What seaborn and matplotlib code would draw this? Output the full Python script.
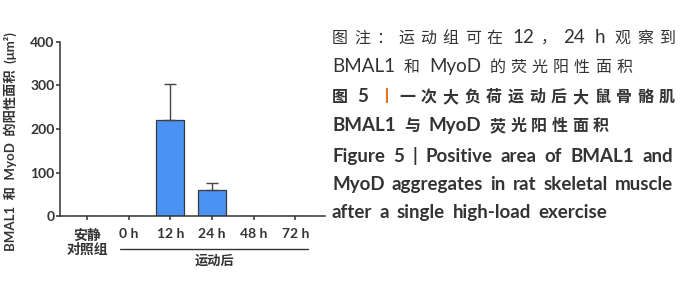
import re
import numpy as np
import matplotlib
matplotlib.use("Agg")
import matplotlib.pyplot as plt
import seaborn as sns

# data
groups = ["安静\n对照组", "0 h", "12 h", "24 h", "48 h", "72 h"]
area = [0, 0, 220, 60, 0, 0]
area_err = [0, 0, 83, 15, 0, 0]
y_ticks = [0, 100, 200, 300, 400]

caption = ["图注：运动组可在 12，24 h 观察到",
           "BMAL1 和 MyoD 的荧光阳性面积",
           "图 5 丨一次大负荷运动后大鼠骨骼肌",
           "BMAL1 与 MyoD 荧光阳性面积",
           "Figure 5 | Positive area of BMAL1 and",
           "MyoD aggregates in rat skeletal muscle",
           "after a single high-load exercise"]
# line widths in pixels
caption_width = [343, 300, 343, 277, 341, 341, 275]

sns.set_style("ticks")
plt.rcParams['font.family'] = ['Lato', 'Noto Sans CJK SC', 'DejaVu Sans']
ink = "#333333"
orange = "#e0782a"

fig = plt.figure(figsize=(7, 2.81), dpi=100)
ax = fig.add_axes([0.0857, 0.231, 0.378, 0.62])

sns.barplot(x=groups, y=area, color="#4a93f5", edgecolor="#3a3a3a",
            linewidth=0.9, width=0.67, saturation=1, ax=ax)
pos = np.arange(len(groups))
err = np.array(area_err)
show = err > 0
ax.errorbar(pos[show], np.array(area)[show],
            yerr=[np.zeros(show.sum()), err[show]],
            fmt="none", ecolor="#444444", elinewidth=1.0, capsize=4.5, capthick=1.0)

ax.set_xlim(-0.65, 5.7)
ax.set_ylim(0, 400)
ax.set_yticks(y_ticks)
ax.set_xticks(pos)
ax.set_xticklabels([])
sns.despine(ax=ax)
for s in ["left", "bottom"]:
    ax.spines[s].set_color(ink)
    ax.spines[s].set_linewidth(1.1)
ax.tick_params(axis="y", colors=ink, labelsize=10, length=3, width=1.1, pad=1)
ax.tick_params(axis="x", colors=ink, length=3, width=1.1)
for t in ax.get_yticklabels():
    t.set_fontweight("bold")

ax.set_ylabel("BMAL1  和  MyoD  的阳性面积  (μm²)", fontsize=9.5,
              color=ink, fontweight="bold")
ax.yaxis.set_label_coords(-0.163, 0.43)

# category labels
for i, g in enumerate(groups):
    ax.text(i, -0.07, g, transform=ax.get_xaxis_transform(), ha="center",
            va="top", fontsize=10, color=ink, fontweight="bold",
            linespacing=1.1)
ax.plot([0.78, 5.3], [-0.19, -0.19], transform=ax.get_xaxis_transform(),
        color=ink, lw=1.0, clip_on=False)
ax.text(3.05, -0.22, "运动后", transform=ax.get_xaxis_transform(),
        ha="center", va="top", fontsize=9.5, color=ink, fontweight="bold")

# caption block on the right, justified like the journal layout
renderer = fig.canvas.get_renderer()


def draw_line(x_px, y_px, txt, width, weight, latin_size, cjk_size):
    tokens = re.findall(r"[A-Za-z0-9\-\.]+|\s+|.", txt)
    items = []  # (token, space before)
    pending_space = False
    for tk in tokens:
        if tk.isspace():
            pending_space = True
            continue
        items.append((tk, pending_space))
        pending_space = False
    space_px = 0.2 * latin_size * 100 / 72
    arts, widths = [], []
    for tk, _ in items:
        latin = tk.isascii()
        col = orange if tk == "丨" else ink
        fam = ['Lato', 'DejaVu Sans'] if latin else ['Noto Sans CJK SC']
        t = fig.text(0, 0, tk, fontsize=latin_size if latin else cjk_size,
                     fontweight=weight, color=col, family=fam,
                     va="baseline", ha="left", transform=None)
        arts.append(t)
        widths.append(t.get_window_extent(renderer).width)
    gaps = [space_px if sp else 0.0 for _, sp in items[1:]]
    natural = sum(widths) + sum(gaps)
    extra = (width - natural) / len(gaps)
    x = x_px
    for i, t in enumerate(arts):
        if i > 0:
            x += max(gaps[i - 1] + extra, 1.0)
        t.set_position((x, y_px))
        x += widths[i]


# baselines in pixels from the bottom
ys = [238, 209, 179, 150, 119, 91, 63]
weights = ["normal", "normal", "bold", "bold", "bold", "bold", "bold"]
for y, txt, w, wd in zip(ys, caption, weights, caption_width):
    draw_line(332, y, txt, wd, w, 13.5, 11.5)

fig.savefig("out.png", dpi=100)
